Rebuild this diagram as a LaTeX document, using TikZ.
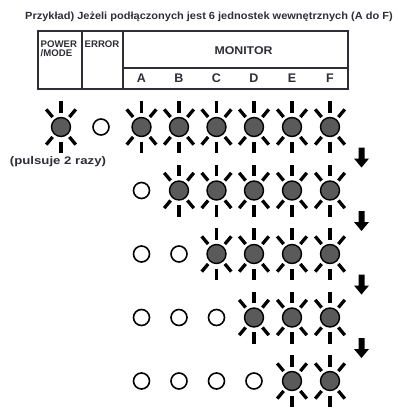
\documentclass[tikz,border=0pt]{standalone}
\usepackage{fontspec}
\setmainfont{Liberation Sans}
\definecolor{ink}{HTML}{2E2E36}
\definecolor{ledfill}{HTML}{5A5A5A}
\begin{document}
\begin{tikzpicture}[x=1pt,y=-1pt,
  txt/.style={inner sep=0pt,text=ink,font=\bfseries},
  ledon/.style={circle,draw=black,line width=1.4pt,fill=ledfill,minimum size=19pt,inner sep=0pt},
  ledoff/.style={circle,draw=black,line width=1.6pt,fill=white,minimum size=16pt,inner sep=0pt},
  ray/.style={line width=3.3pt,black},
  grid/.style={line width=1.4pt,draw=ink},
  darrow/.style={fill=black}]
\useasboundingbox (0,0) rectangle (398,410);
% title
\node[txt,anchor=west,font=\bfseries\fontsize{10.4}{11}\selectfont] (title) at (25,17)
  {\scalebox{1.06}[1]{Przykład) Jeżeli podłączonych jest 6 jednostek wewnętrznych (A do F)}};
% table
\draw[grid] (38,31) rectangle (348,89);
\draw[grid] (82,31) -- (82,89);
\draw[grid] (123,31) -- (123,89);
\draw[grid] (123,68) -- (348,68);
\node[txt,anchor=north west,align=left,font=\bfseries\fontsize{9.6}{8.8}\selectfont] (pm) at (40.5,40.5)
  {POWER\\/MODE};
\node[txt,anchor=north west,font=\bfseries\fontsize{9.6}{8.8}\selectfont] (err) at (84.5,40.5) {ERROR};
\node[txt,font=\bfseries\fontsize{11.2}{12}\selectfont] (mon) at (243.5,51) {\scalebox{1.1}[1]{MONITOR}};
\foreach \l/\x in {A/141.5,B/179,C/216.5,D/254,E/292,F/330}
  \node[txt,font=\bfseries\fontsize{12.5}{12}\selectfont] (h\l) at (\x,78.5) {\l};
% LEDs
\newcommand{\ledrays}[1]{%
  \foreach \a in {90,270} \draw[ray] (#1.center) ++(\a:14.5pt) -- ++(\a:11.5pt);
  \foreach \a in {50,130,230,310} \draw[ray] (#1.center) ++(\a:13pt) -- ++(\a:10pt);}
% row 1
\node[ledon] (pw) at (61,127) {}; \ledrays{pw}
\node[ledoff] (er) at (101,127) {};
\node[txt,font=\bfseries\fontsize{11}{12}\selectfont] (puls) at (58,162) {\scalebox{1.2}[1]{(pulsuje 2 razy)}};
\foreach \r/\y/\n in {1/127/0,2/190.5/1,3/254/2,4/317.5/3,5/381/4}{
  \foreach \c/\x [count=\i from 1] in {A/141.5,B/179,C/216.5,D/254,E/292,F/330}{
    \ifnum\i>\n
      \node[ledon] (l\r\c) at (\x,\y) {}; \ledrays{l\r\c}
    \else
      \node[ledoff] (l\r\c) at (\x,\y) {};
    \fi
  }
}
% arrows
\foreach \y in {158.5,222,285.5,349}
  \fill[darrow] (358.5,\y-11) -- (364.5,\y-11) -- (364.5,\y) -- (369,\y) -- (361.5,\y+9) -- (354,\y) -- (358.5,\y) -- cycle;
\end{tikzpicture}
\end{document}
